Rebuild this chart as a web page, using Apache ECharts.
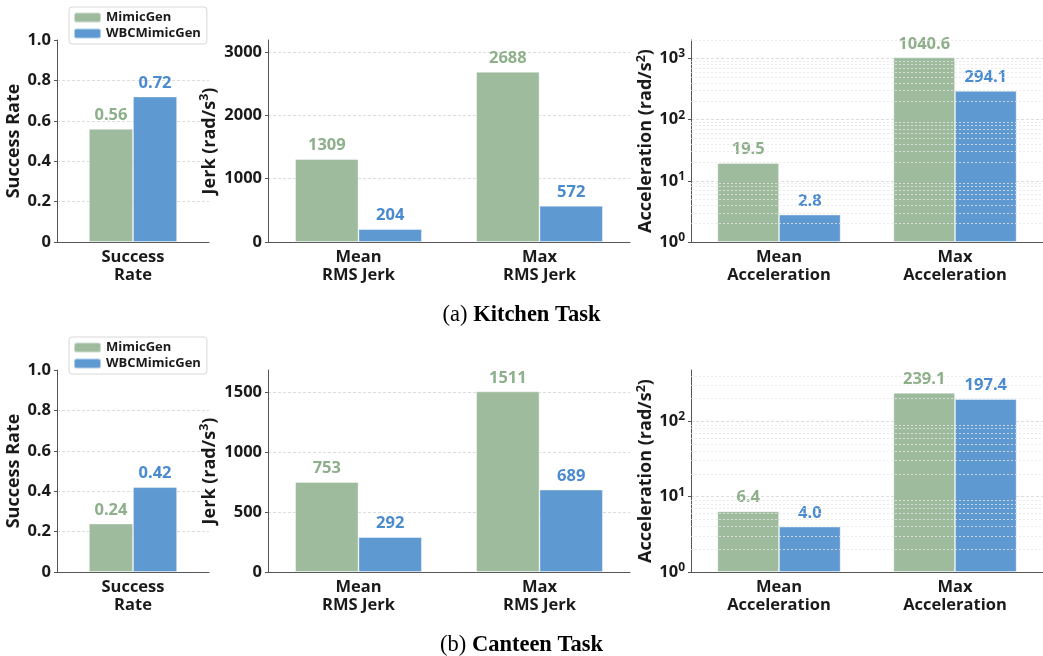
<!DOCTYPE html>
<html>
<head>
<meta charset="utf-8">
<script src="https://cdn.jsdelivr.net/npm/echarts@6/dist/echarts.min.js"></script>
<style>
html,body{margin:0;padding:0;background:#fff;}
#chart{width:1043px;height:656px;}
</style>
</head>
<body>
<div id="chart"></div>
<script>
// ---- data ----
const seriesNames = ['MimicGen', 'WBCMimicGen'];
const successCats = ['Success\nRate'];
const jerkCats = ['Mean\nRMS Jerk', 'Max\nRMS Jerk'];
const accCats = ['Mean\nAcceleration', 'Max\nAcceleration'];

const kitchenSuccessMimic = [0.56];
const kitchenSuccessWBC = [0.72];
const kitchenJerkMimic = [1309, 2688];
const kitchenJerkWBC = [204, 572];
const kitchenAccMimic = [19.5, 1040.6];
const kitchenAccWBC = [2.8, 294.1];

const canteenSuccessMimic = [0.24];
const canteenSuccessWBC = [0.42];
const canteenJerkMimic = [753, 1511];
const canteenJerkWBC = [292, 689];
const canteenAccMimic = [6.4, 239.1];
const canteenAccWBC = [4.0, 197.4];

const captions = ['{r|(a) }{b|Kitchen Task}', '{r|(b) }{b|Canteen Task}'];

// ---- style ----
const FONT = 'Open Sans';
const FW = 'bold';
const GREEN = '#9ebb9e';
const BLUE = '#5f99d1';
const GREEN_TXT = '#8db08a';
const BLUE_TXT = '#4a8bd0';
const AXIS = '#555';
const TXT = '#1a1a1a';

const rowTops = [40, 370];
const plotH = 202;
const cols = [
  {left: 57, width: 152},
  {left: 268, width: 362},
  {left: 691, width: 362}
];

const grids = [], xAxes = [], yAxes = [], series = [], legends = [], graphics = [];

function supRich(fs, pad) {
  return {
    sup: {fontSize: fs, fontFamily: FONT, fontWeight: FW, color: TXT, verticalAlign: 'bottom', padding: [0, 0, pad, 0]}
  };
}

function addPanel(row, col, cats, mimic, wbc, opt) {
  const gi = grids.length;
  grids.push({left: cols[col].left, top: rowTops[row], width: cols[col].width, height: plotH, containLabel: false});
  xAxes.push({
    type: 'category', gridIndex: gi, data: cats,
    axisLine: {show: true, lineStyle: {color: AXIS, width: 1}},
    axisTick: {show: false},
    axisLabel: {color: TXT, fontFamily: FONT, fontWeight: FW, fontSize: 16.5, lineHeight: 18, margin: 6, interval: 0}
  });
  const y = {
    gridIndex: gi,
    name: opt.name, nameLocation: 'middle', nameGap: opt.nameGap,
    nameTextStyle: {color: TXT, fontFamily: FONT, fontWeight: FW, fontSize: 18, rich: supRich(12.5, 10)},
    axisLine: {show: true, lineStyle: {color: AXIS, width: 1}},
    axisTick: {show: true, length: 3, lineStyle: {color: AXIS}},
    axisLabel: {color: TXT, fontFamily: FONT, fontWeight: FW, fontSize: 16.5, margin: 6,
      showMaxLabel: opt.showMax !== false, rich: supRich(12, 9), formatter: opt.tickFmt},
    splitLine: {show: true, showMinLine: false, showMaxLine: false, lineStyle: {color: '#d4d4d4', type: [3, 2], width: 0.8}}
  };
  Object.assign(y, opt.axis);
  yAxes.push(y);
  const label = (color) => ({
    show: true, position: 'top', distance: 5, color: color,
    fontFamily: FONT, fontWeight: FW, fontSize: 16.5, formatter: p => opt.fmt(p.value)
  });
  series.push({
    name: seriesNames[0], type: 'bar', xAxisIndex: gi, yAxisIndex: gi, data: mimic,
    barWidth: opt.barWidth, barGap: '0%', z: 3,
    itemStyle: {color: GREEN, borderColor: 'rgba(255,255,255,0.5)', borderWidth: 0.8},
    label: label(GREEN_TXT)
  });
  series.push({
    name: seriesNames[1], type: 'bar', xAxisIndex: gi, yAxisIndex: gi, data: wbc,
    barWidth: opt.barWidth, barGap: '0%', z: 3,
    itemStyle: {color: BLUE, borderColor: 'rgba(255,255,255,0.5)', borderWidth: 0.8},
    label: label(BLUE_TXT)
  });
  if (opt.minorLines) {
    series.push({
      type: 'line', xAxisIndex: gi, yAxisIndex: gi, data: cats.map(() => null), z: 1,
      silent: true, showSymbol: false, lineStyle: {opacity: 0},
      markLine: {
        silent: true, symbol: 'none', label: {show: false}, animation: false,
        lineStyle: {color: '#e6e6e6', type: [2, 2], width: 0.8},
        data: opt.minorLines.map(v => ({yAxis: v}))
      }
    });
  }
}

function minorLogLines(maxV) {
  const out = [];
  for (let k = 0; Math.pow(10, k) < maxV; k++) {
    for (let m = 2; m <= 9; m++) {
      const v = m * Math.pow(10, k);
      if (v <= maxV) out.push(v);
    }
  }
  return out;
}

const rows = [
  {sm: kitchenSuccessMimic, sw: kitchenSuccessWBC, jm: kitchenJerkMimic, jw: kitchenJerkWBC, am: kitchenAccMimic, aw: kitchenAccWBC, jMax: 3190, jInt: 1000, aMax: 2000},
  {sm: canteenSuccessMimic, sw: canteenSuccessWBC, jm: canteenJerkMimic, jw: canteenJerkWBC, am: canteenAccMimic, aw: canteenAccWBC, jMax: 1690, jInt: 500, aMax: 480}
];

rows.forEach((r, ri) => {
  addPanel(ri, 0, successCats, r.sm, r.sw, {
    name: 'Success Rate', nameGap: 34, barWidth: '29%',
    fmt: v => v.toFixed(2),
    tickFmt: v => v === 0 ? '0' : v.toFixed(1),
    axis: {type: 'value', min: 0, max: 1, interval: 0.2}
  });
  addPanel(ri, 1, jerkCats, r.jm, r.jw, {
    name: 'Jerk (rad/s{sup|3})', nameGap: 47, barWidth: '35%',
    fmt: v => String(Math.round(v)), showMax: false,
    tickFmt: v => String(Math.round(v)),
    axis: {type: 'value', min: 0, max: r.jMax, interval: r.jInt}
  });
  addPanel(ri, 2, accCats, r.am, r.aw, {
    name: 'Acceleration (rad/s{sup|2})', nameGap: 32, barWidth: '35%',
    fmt: v => v.toFixed(1), showMax: false,
    tickFmt: v => '10{sup|' + Math.round(Math.log10(v)) + '}',
    minorLines: minorLogLines(r.aMax),
    axis: {type: 'log', logBase: 10, min: 1, max: r.aMax}
  });

  legends.push({
    data: seriesNames, orient: 'vertical', left: 69, top: rowTops[ri] - 33,
    itemWidth: 27, itemHeight: 10, itemGap: 3,
    padding: [4, 6, 4, 4],
    backgroundColor: 'rgba(255,255,255,0.9)', borderColor: '#d8d8d8', borderWidth: 1, borderRadius: 3,
    textStyle: {color: TXT, fontFamily: FONT, fontWeight: FW, fontSize: 13},
    selectedMode: false
  });
  graphics.push({
    type: 'text', left: 'center', top: ri === 0 ? 304 : 634,
    style: {
      text: captions[ri],
      rich: {
        r: {fontFamily: 'Liberation Serif', fontSize: 22.5, fill: '#000', fontWeight: 'normal'},
        b: {fontFamily: 'Liberation Serif', fontSize: 22.5, fill: '#000', fontWeight: 'bold'}
      }
    }
  });
});

const chart = echarts.init(document.getElementById('chart'), null, {renderer: 'canvas'});
chart.setOption({
  animation: false,
  backgroundColor: '#fff',
  grid: grids, xAxis: xAxes, yAxis: yAxes, series: series, legend: legends,
  graphic: graphics
});
</script>
</body>
</html>
